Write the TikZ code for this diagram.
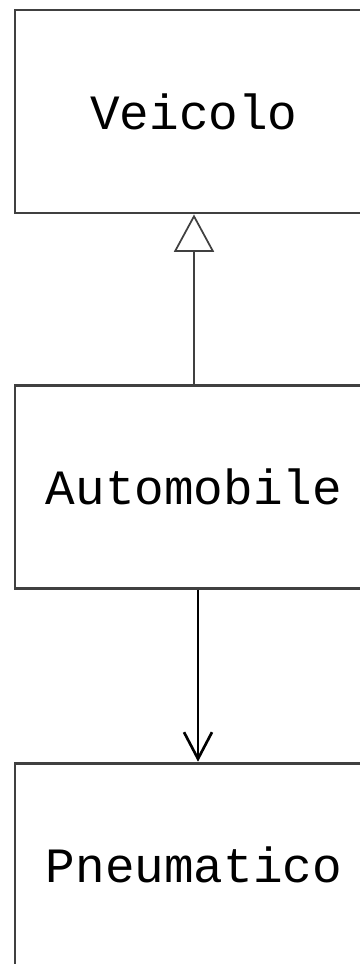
\documentclass[tikz,border=0pt]{standalone}
\usepackage{fontspec}
\setmonofont{Liberation Mono}
\usetikzlibrary{positioning,arrows.meta}
\definecolor{boxgray}{gray}{0.25}
\begin{document}
\begin{tikzpicture}[semithick,node distance=127pt,
	classbox/.style={draw=boxgray,line width=2.2pt,rectangle,minimum width=268.5pt,minimum height=152.25pt,inner sep=0pt,font=\ttfamily\fontsize{37}{40}\selectfont}]

		\useasboundingbox (0,0) rectangle (270pt,-723pt);

		\node[classbox](veicolo)    at (145.5pt,-83.6pt)       {Veicolo};
		\node[classbox](automobile) [below = of veicolo]       {Automobile};
		\node[classbox](pneumatico) [below = 129pt of automobile] {Pneumatico};

		\draw[-{Triangle[open,length=28pt,width=30pt]},line width=1.3pt,draw=boxgray] (automobile.north) -- (veicolo.south);
		\draw[-{Straight Barb[length=20pt,width=21pt]},line width=2pt] ([xshift=3pt]automobile.south) -- ([xshift=3pt]pneumatico.north);
	\end{tikzpicture}
\end{document}
